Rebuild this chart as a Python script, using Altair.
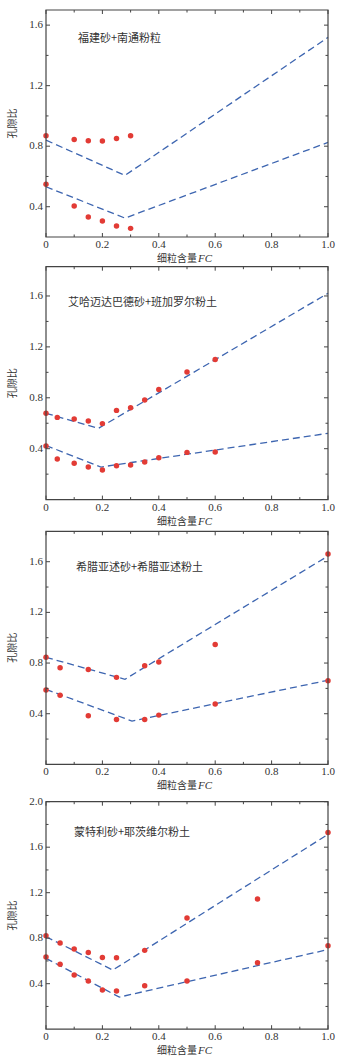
import altair as alt
import pandas as pd

# ---------------- data ----------------
titles = ["福建砂+南通粉粒", "艾哈迈达巴德砂+班加罗尔粉土", "希腊亚述砂+希腊亚述粉土", "蒙特利砂+耶茨维尔粉土"]

p1_fc = [0, 0.1, 0.15, 0.2, 0.25, 0.3]
p1_emax = [0.869, 0.845, 0.836, 0.834, 0.851, 0.869]
p1_emin = [0.548, 0.405, 0.332, 0.306, 0.272, 0.257]
p1_line_fc = [0, 0.28, 1.0]
p1_line_max = [0.84, 0.607, 1.519]
p1_line_fc_min = [0, 0.28, 1.0]
p1_line_min = [0.532, 0.325, 0.825]

p2_fc = [0, 0.04, 0.1, 0.15, 0.2, 0.25, 0.3, 0.35, 0.4, 0.5, 0.6]
p2_emax = [0.678, 0.646, 0.633, 0.618, 0.597, 0.701, 0.722, 0.783, 0.866, 1.003, 1.100]
p2_emin = [0.421, 0.319, 0.285, 0.256, 0.232, 0.266, 0.272, 0.295, 0.329, 0.371, 0.374]
p2_line_fc = [0, 0.186, 1.0]
p2_line_max = [0.678, 0.560, 1.621]
p2_line_fc_min = [0, 0.195, 1.0]
p2_line_min = [0.425, 0.256, 0.521]

p3_fc = [0, 0.05, 0.15, 0.25, 0.35, 0.4, 0.6, 1.0]
p3_emax = [0.845, 0.763, 0.750, 0.687, 0.779, 0.808, 0.947, 1.660]
p3_emin = [0.587, 0.545, 0.384, 0.355, 0.355, 0.389, 0.476, 0.661]
p3_line_fc = [0, 0.28, 1.0]
p3_line_max = [0.845, 0.672, 1.645]
p3_line_fc_min = [0, 0.305, 1.0]
p3_line_min = [0.592, 0.342, 0.664]

p4_fc = [0, 0.05, 0.1, 0.15, 0.2, 0.25, 0.35, 0.5, 0.75, 1.0]
p4_emax = [0.822, 0.758, 0.705, 0.675, 0.631, 0.629, 0.693, 0.977, 1.144, 1.730]
p4_emin = [0.634, 0.570, 0.476, 0.423, 0.344, 0.336, 0.382, 0.423, 0.585, 0.734]
p4_line_fc = [0, 0.237, 1.0]
p4_line_max = [0.813, 0.520, 1.713]
p4_line_fc_min = [0, 0.26, 1.0]
p4_line_min = [0.623, 0.282, 0.700]

x_major = [0, 0.2, 0.4, 0.6, 0.8, 1.0]
x_labels = ["0", "0.2", "0.4", "0.6", "0.8", "1.0"]
x_minor = [0.1, 0.3, 0.5, 0.7, 0.9]
y_domains = [[0.2, 1.7], [0, 1.83], [0, 1.84], [0, 2.0]]
y_major = [[0.4, 0.8, 1.2, 1.6], [0.4, 0.8, 1.2, 1.6], [0.4, 0.8, 1.2, 1.6], [0.4, 0.8, 1.2, 1.6, 2.0]]
y_minor = [[0.6, 1.0, 1.4], [0.2, 0.6, 1.0, 1.4], [0.2, 0.6, 1.0, 1.4], [0.2, 0.6, 1.0, 1.4, 1.8]]

panels = [
    (p1_fc, p1_emax, p1_emin, p1_line_fc, p1_line_max, p1_line_fc_min, p1_line_min),
    (p2_fc, p2_emax, p2_emin, p2_line_fc, p2_line_max, p2_line_fc_min, p2_line_min),
    (p3_fc, p3_emax, p3_emin, p3_line_fc, p3_line_max, p3_line_fc_min, p3_line_min),
    (p4_fc, p4_emax, p4_emin, p4_line_fc, p4_line_max, p4_line_fc_min, p4_line_min),
]

# ---------------- layout / style (pixels) ----------------
W = 282
HT = 1020
PANEL_TOP = [0, 256.7, 521.3, 791.7]
PANEL_BOT = [227, 489.6, 754.4, 1019.2]
TEXT_POS = [(32, 29), (22, 36), (30, 37), (28, 31)]
SERIF = "Liberation Serif"
CJK = "Noto Sans CJK SC"
RED = "#e23b35"
BLUE = "#3d65b0"
INK = "#333333"
FRAME = "#444444"
MAJ, MIN = 4, 2.5

xs = alt.Scale(domain=[0, 1], nice=False, zero=False)


def panel(i):
    fc, emax, emin, lfc, lmax, lfcm, lmin = panels[i]
    top, bot = PANEL_TOP[i], PANEL_BOT[i]
    ys = alt.Scale(domain=y_domains[i], range=[bot, top], nice=False, zero=False)
    X = alt.X("fc:Q", scale=xs, axis=None)
    Y = alt.Y("e:Q", scale=ys, axis=None)
    Yp = alt.Y("e:Q", axis=None)
    Xp = alt.X("fc:Q", axis=None)

    pts = pd.DataFrame({"fc": fc + fc, "e": emax + emin, "s": ["max"] * len(fc) + ["min"] * len(fc)})
    lines = pd.DataFrame({"fc": lfc + lfcm, "e": lmax + lmin,
                          "s": ["max"] * len(lfc) + ["min"] * len(lfcm)})
    one = pd.DataFrame({"a": [0]})

    layers = []
    layers.append(alt.Chart(lines).mark_line(strokeDash=[7, 4], color=BLUE, strokeWidth=1.3).encode(
        x=X, y=Y, detail="s:N"))
    layers.append(alt.Chart(pts).mark_circle(size=30, color=RED, opacity=1).encode(x=Xp, y=Yp))

    # frame
    layers.append(alt.Chart(one).mark_rect(fillOpacity=0, stroke=FRAME, strokeWidth=1.2).encode(
        x=alt.value(0), x2=alt.value(W), y=alt.value(top), y2=alt.value(bot)))

    # inward ticks on four sides
    for vals, ln in ((x_major, MAJ), (x_minor, MIN)):
        d = pd.DataFrame({"fc": vals})
        layers.append(alt.Chart(d).mark_rule(color=FRAME, strokeWidth=1).encode(
            x=Xp, y=alt.value(bot), y2=alt.value(bot - ln)))
        layers.append(alt.Chart(d).mark_rule(color=FRAME, strokeWidth=1).encode(
            x=Xp, y=alt.value(top), y2=alt.value(top + ln)))
    for vals, ln in ((y_major[i], MAJ), (y_minor[i], MIN)):
        d = pd.DataFrame({"e": vals})
        layers.append(alt.Chart(d).mark_rule(color=FRAME, strokeWidth=1).encode(
            y=Yp, x=alt.value(0), x2=alt.value(ln)))
        layers.append(alt.Chart(d).mark_rule(color=FRAME, strokeWidth=1).encode(
            y=Yp, x=alt.value(W), x2=alt.value(W - ln)))

    # tick labels
    xl = pd.DataFrame({"fc": x_major, "lab": x_labels})
    layers.append(alt.Chart(xl).mark_text(align="center", baseline="middle", font=SERIF,
                                          fontSize=11, color=INK).encode(
        x=Xp, y=alt.value(bot + 8), text="lab:N"))
    yl = pd.DataFrame({"e": y_major[i]})
    layers.append(alt.Chart(yl).mark_text(align="right", baseline="middle", font=SERIF,
                                          fontSize=11, color=INK).encode(
        y=Yp, x=alt.value(-3), text=alt.Text("e:Q", format=".1f")))

    # axis titles
    layers.append(alt.Chart(one).mark_text(align="center", baseline="middle", font=CJK, fontSize=10,
                                           angle=270, color=INK, text="孔隙比").encode(
        x=alt.value(-33), y=alt.value((top + bot) / 2)))
    layers.append(alt.Chart(one).mark_text(align="right", baseline="middle", font=CJK, fontSize=10,
                                           color=INK, text="细粒含量").encode(
        x=alt.value(151), y=alt.value(bot + 22)))
    layers.append(alt.Chart(one).mark_text(align="left", baseline="middle", font=SERIF, fontSize=11,
                                           fontStyle="italic", color=INK, text="FC").encode(
        x=alt.value(152), y=alt.value(bot + 22)))

    # panel annotation
    tx, ty = TEXT_POS[i]
    layers.append(alt.Chart(one).mark_text(align="left", baseline="middle", font=CJK, fontSize=11,
                                           color=INK, text=titles[i]).encode(
        x=alt.value(tx), y=alt.value(top + ty)))

    return alt.layer(*layers)


chart = alt.layer(panel(0), panel(1), panel(2), panel(3)).resolve_scale(y="independent").properties(
    width=W,
    height=HT,
    autosize=alt.AutoSizeParams(type="none"),
    padding={"left": 46, "top": 10, "right": 16, "bottom": 31},
    background="white",
).configure_view(stroke=None)

chart.save("out.html", embed_options={"renderer": "svg", "actions": False})
